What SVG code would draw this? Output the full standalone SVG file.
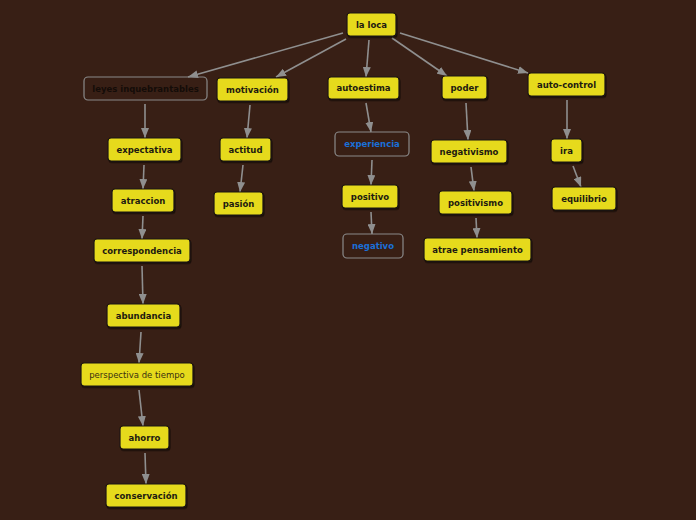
<svg xmlns="http://www.w3.org/2000/svg" width="696" height="520" viewBox="0 0 696 520">
<defs>
<marker id="ah" viewBox="0 0 10 8" refX="10" refY="4" markerWidth="10" markerHeight="8" markerUnits="userSpaceOnUse" orient="auto">
<path d="M0,0 L10,4 L0,8 Z" fill="#8f8f8f"/>
</marker>
<filter id="sh" x="-10%" y="-20%" width="130%" height="160%">
<feDropShadow dx="1" dy="1.5" stdDeviation="0.7" flood-color="#000" flood-opacity="0.55"/>
</filter>
</defs>
<style>
.n rect{fill:#e6da1f;stroke:#1c1410;stroke-width:1.2;filter:url(#sh)}
.o rect{fill:none;stroke:#8a8a8a;stroke-width:1.2}
text{font-family:"DejaVu Sans",sans-serif;font-size:8.5px;font-weight:bold;fill:#1e1a10;text-anchor:middle;dominant-baseline:central}
.o text{fill:#140c08}
.o.b text{fill:#1a6fd8}
.r text{font-weight:normal;fill:#3a3010}
#conn line{stroke:#8f8f8f;stroke-width:1.6;marker-end:url(#ah)}
</style>
<rect width="696" height="520" fill="#381f15"/>
<g id="conn">
<line x1="343" y1="33" x2="188" y2="77"/>
<line x1="346" y1="39" x2="276" y2="77"/>
<line x1="369" y1="40" x2="366" y2="77"/>
<line x1="392" y1="38" x2="447" y2="76"/>
<line x1="400" y1="33" x2="528" y2="73"/>
<line x1="145" y1="104" x2="145" y2="138"/>
<line x1="250" y1="105" x2="247" y2="138"/>
<line x1="366" y1="103" x2="371" y2="132"/>
<line x1="466" y1="103" x2="468" y2="140"/>
<line x1="567" y1="100" x2="567" y2="139"/>
<line x1="144" y1="165" x2="143" y2="189"/>
<line x1="243" y1="165" x2="240" y2="192"/>
<line x1="372" y1="160" x2="371" y2="185"/>
<line x1="471" y1="167" x2="474" y2="191"/>
<line x1="573" y1="166" x2="581" y2="187"/>
<line x1="143" y1="216" x2="142" y2="239"/>
<line x1="371" y1="212" x2="372" y2="234"/>
<line x1="476" y1="218" x2="477" y2="238"/>
<line x1="142" y1="266" x2="143" y2="304"/>
<line x1="141" y1="332" x2="139" y2="363"/>
<line x1="139" y1="390" x2="143" y2="426"/>
<line x1="145" y1="453" x2="146" y2="484"/>
</g>
<g id="la-loca" class="n"><rect x="347" y="13" width="49" height="23" rx="3"/><text x="371.5" y="24.5">la loca</text></g>
<g id="leyes" class="o"><rect x="84" y="77" width="123" height="23" rx="4"/><text x="145.5" y="88.5">leyes inquebrantables</text></g>
<g id="motivacion" class="n"><rect x="217" y="78" width="71" height="23" rx="3"/><text x="252.5" y="89.5">motivación</text></g>
<g id="autoestima" class="n"><rect x="328" y="77" width="71" height="22" rx="3"/><text x="363.5" y="88">autoestima</text></g>
<g id="poder" class="n"><rect x="442" y="76" width="45" height="23" rx="3"/><text x="464.5" y="87.5">poder</text></g>
<g id="auto-control" class="n"><rect x="528" y="73" width="77" height="23" rx="3"/><text x="566.5" y="84.5">auto-control</text></g>
<g id="expectativa" class="n"><rect x="108" y="138" width="73" height="23" rx="3"/><text x="144.5" y="149.5">expectativa</text></g>
<g id="actitud" class="n"><rect x="220" y="138" width="51" height="23" rx="3"/><text x="245.5" y="149.5">actitud</text></g>
<g id="experiencia" class="o b"><rect x="335" y="132" width="74" height="24" rx="4"/><text x="372" y="144">experiencia</text></g>
<g id="negativismo" class="n"><rect x="431" y="140" width="76" height="23" rx="3"/><text x="469" y="151.5">negativismo</text></g>
<g id="ira" class="n"><rect x="551" y="139" width="31" height="23" rx="3"/><text x="566.5" y="150.5">ira</text></g>
<g id="atraccion" class="n"><rect x="112" y="189" width="62" height="23" rx="3"/><text x="143" y="200.5">atraccion</text></g>
<g id="pasion" class="n"><rect x="214" y="192" width="49" height="23" rx="3"/><text x="238.5" y="203.5">pasión</text></g>
<g id="positivo" class="n"><rect x="342" y="185" width="56" height="23" rx="3"/><text x="370" y="196.5">positivo</text></g>
<g id="positivismo" class="n"><rect x="439" y="191" width="73" height="23" rx="3"/><text x="475.5" y="202.5">positivismo</text></g>
<g id="equilibrio" class="n"><rect x="552" y="187" width="64" height="23" rx="3"/><text x="584" y="198.5">equilibrio</text></g>
<g id="correspondencia" class="n"><rect x="94" y="239" width="96" height="23" rx="3"/><text x="142" y="250.5">correspondencia</text></g>
<g id="negativo" class="o b"><rect x="343" y="234" width="60" height="24" rx="4"/><text x="373" y="246">negativo</text></g>
<g id="atrae-pensamiento" class="n"><rect x="424" y="238" width="107" height="23" rx="3"/><text x="477.5" y="249.5">atrae pensamiento</text></g>
<g id="abundancia" class="n"><rect x="107" y="304" width="73" height="23" rx="3"/><text x="143.5" y="315.5">abundancia</text></g>
<g id="perspectiva" class="n r"><rect x="81" y="363" width="112" height="23" rx="3"/><text x="137" y="374.5">perspectiva de tiempo</text></g>
<g id="ahorro" class="n"><rect x="120" y="426" width="49" height="23" rx="3"/><text x="144.5" y="437.5">ahorro</text></g>
<g id="conservacion" class="n"><rect x="106" y="484" width="80" height="23" rx="3"/><text x="146" y="495.5">conservación</text></g>
</svg>
